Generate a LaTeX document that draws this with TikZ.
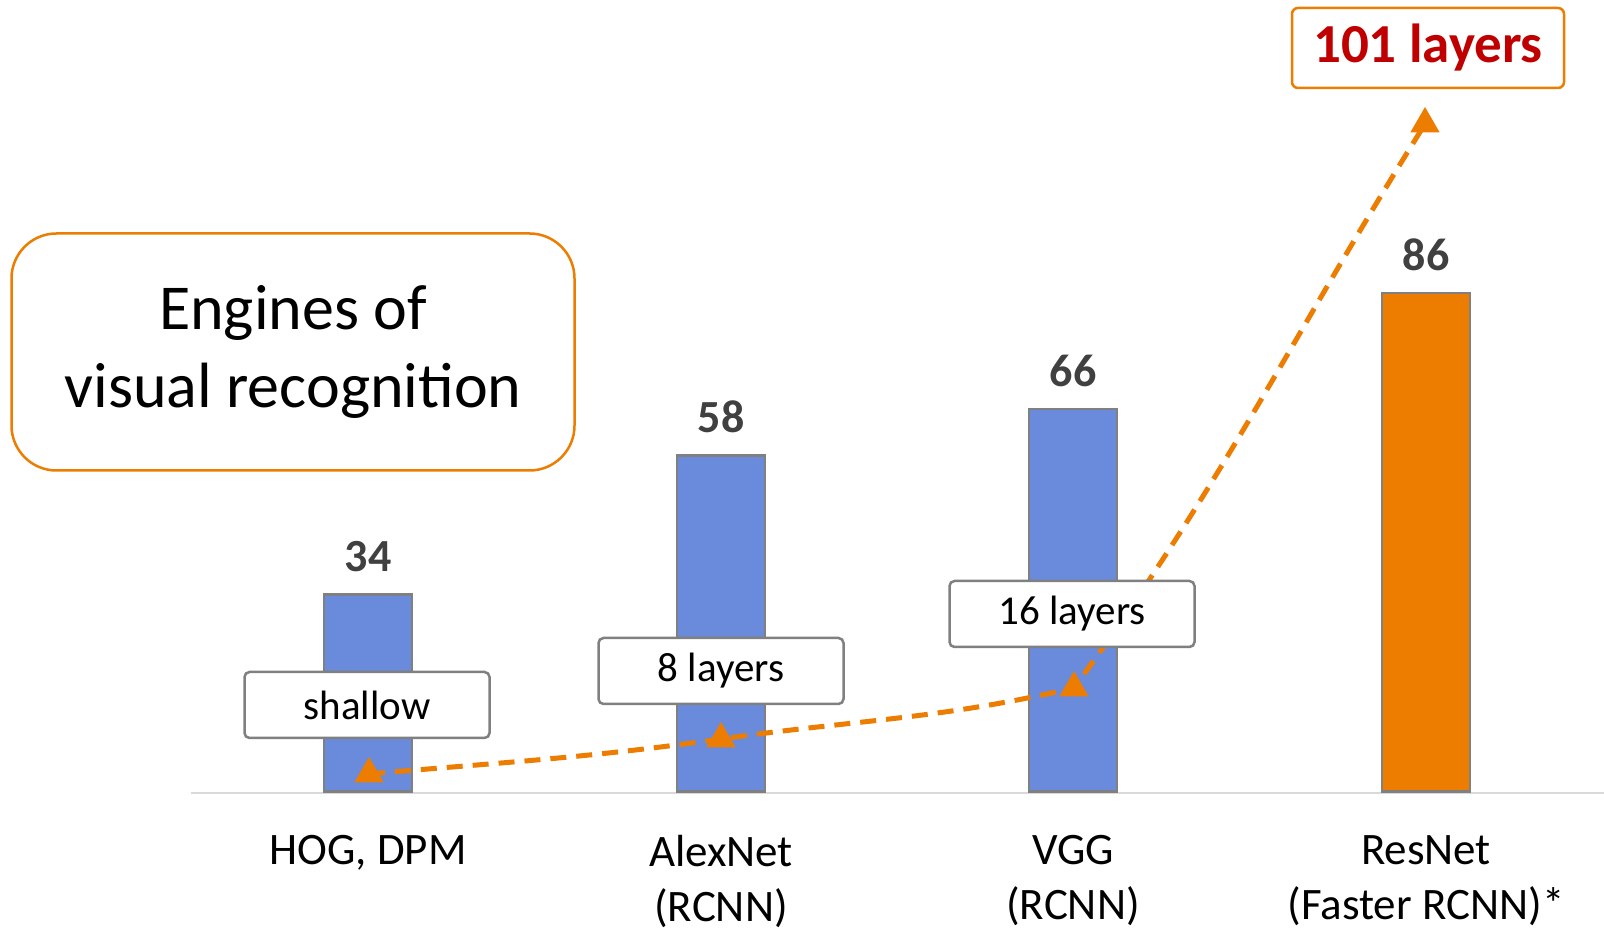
\documentclass[tikz,border=0pt]{standalone}
\usepackage{fontspec}
\setmainfont{Carlito}
\usetikzlibrary{positioning,shapes.geometric}
\definecolor{bb}{RGB}{106,139,219}
\definecolor{oo}{RGB}{237,125,0}
\definecolor{gg}{RGB}{128,128,128}
\definecolor{rr}{RGB}{192,0,0}
\definecolor{ll}{RGB}{217,217,217}
\definecolor{tt}{RGB}{64,64,64}
\def\barwidth{88pt}
\def\base{138}
\def\unit{5.8}
\tikzset{layerbox/.style={draw=gg,line width=2.5pt,rounded corners=5pt,fill=white,minimum width=245pt,minimum height=66pt,font=\fontsize{41}{44}\selectfont},
	marker/.style={regular polygon,regular polygon sides=3,fill=oo,minimum size=34pt,inner sep=0pt}}
\newcommand{\barnode}[5]{\node[minimum width=\barwidth,minimum height=#2*\unit pt,draw=gg,line width=2.5pt,fill=#4,anchor=south,inner sep=0pt] (#3) at (#1,\base) {};
	\node[font=\fontsize{46}{50}\selectfont\bfseries,color=tt] (#3val) at ([yshift=37pt]#3.north) {#2};
	\node[font=\fontsize{45}{55}\selectfont,align=center,anchor=north,inner sep=0pt] (#3cat) at (#1,96) {#5}; }

\begin{document}
\begin{tikzpicture}[x=1pt,y=1pt]
\useasboundingbox (0,0) rectangle (1604,931);
\coordinate (axl) at (191,\base);
\coordinate (axr) at (1604,\base);
\draw[color=ll,line width=2pt] (axl) -- (axr);

\barnode{368}{34}{HOG}{bb}{HOG, DPM}
\barnode{721}{58}{Alex}{bb}{AlexNet\\(RCNN)}
\barnode{1073}{66}{VGG}{bb}{VGG\\(RCNN)}
\barnode{1426}{86}{Res}{oo}{ResNet\\(Faster RCNN)*}

% depth curve
\coordinate (p1) at (369,157);
\coordinate (p2) at (721,192);
\coordinate (p3) at (1074,243);
\coordinate (p4) at (1425,807);
\draw[color=oo,line width=5pt,dash pattern=on 16pt off 10pt] (p1) to[out=5,in=188] (p2) to[out=8,in=193] (p3) to[out=54,in=238] (p4);
\foreach \p in {1,...,4} \node[marker] (m\p) at (p\p) {};

\node[layerbox] (shallow) at (367,226) {shallow};
\node[layerbox] (eight) at (721,260) {8 layers};
\node[layerbox] (sixteen) at (1072,317) {16 layers};
\node[draw=oo,line width=2.5pt,rounded corners=6pt,fill=white,minimum width=272pt,minimum height=80pt,font=\fontsize{55}{58}\selectfont\bfseries,text=rr] (deep) at (1428,883) {101 layers};

\node[draw=oo,line width=2.5pt,rounded corners=45pt,minimum width=563pt,minimum height=237pt,align=center,font=\fontsize{64}{78}\selectfont] (title) at (293,579) {Engines of\\visual recognition};
\end{tikzpicture}
\end{document}
